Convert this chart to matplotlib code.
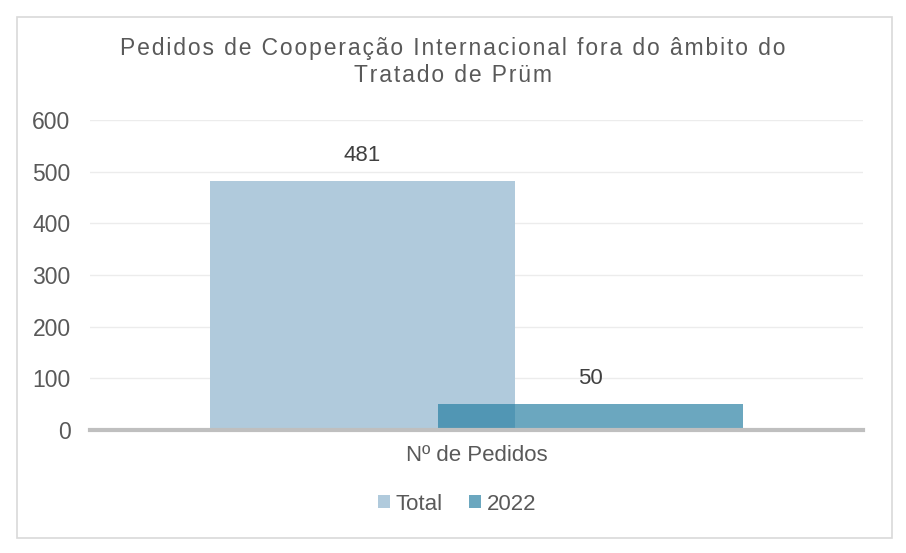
import matplotlib.pyplot as plt
from matplotlib.patches import Rectangle

# data
categoria = "Nº de Pedidos"
series = ["Total", "2022"]
valores = [481, 50]
cores = ["#b0cadc", "#257ea1"]
alfas = [1.0, 0.68]
titulo = ["Pedidos de Cooperação Internacional fora do âmbito do",
          "Tratado de Prüm"]

plt.rcParams["font.family"] = ["Liberation Sans", "DejaVu Sans"]

fig = plt.figure(figsize=(9.06, 5.53), dpi=100)
ax = fig.add_axes([90 / 906, 1 - 430 / 553, 773 / 906, 310 / 553])

# outer frame of the chart
fig.patches.append(Rectangle((17 / 906, 1 - 538 / 553), 875 / 906, 521 / 553,
                             transform=fig.transFigure, fill=False,
                             edgecolor="#d9d9d9", linewidth=1.2))

offsets = [-0.1475, 0.1475]
largura = 0.395
for nome, v, c, a, off in zip(series, valores, cores, alfas, offsets):
    ax.bar(off, v, width=largura, color=c, alpha=a, label=nome, zorder=2)
    ax.annotate(str(v), (off, v), xytext=(0, 11), textcoords="offset points",
                ha="center", va="bottom", fontsize=16, color="#404040")

ax.set_xlim(-0.5, 0.5)
ax.set_ylim(0, 600)
ax.set_yticks(range(0, 601, 100))
ax.set_xticks([0])
ax.set_xticklabels([categoria])
ax.tick_params(axis="y", length=0, labelsize=16.5, labelcolor="#595959", pad=14)
ax.tick_params(axis="x", length=0, labelsize=16, labelcolor="#595959", pad=11)
ax.grid(axis="y", color="#ececec", linewidth=1, zorder=0)
for s in ["top", "right", "left"]:
    ax.spines[s].set_visible(False)
ax.spines["bottom"].set_color("#bfbfbf")
ax.spines["bottom"].set_linewidth(3)
ax.spines["bottom"].set_zorder(3)

# title with a bit of letter spacing (hair spaces between letters)
hs = "\u200a"
for linha, y in zip(titulo, [48, 76]):
    fig.text(453 / 906, 1 - y / 553, hs.join(linha), ha="center", va="center",
             fontsize=16.5, color="#595959")

ax.legend(loc="center", bbox_to_anchor=(457 / 906, 1 - 504 / 553),
          bbox_transform=fig.transFigure, ncol=2, frameon=False,
          fontsize=16, handlelength=0.55, handleheight=0.55,
          handletextpad=0.25, columnspacing=1.2, labelcolor="#595959")

fig.savefig("out.png", dpi=100)
